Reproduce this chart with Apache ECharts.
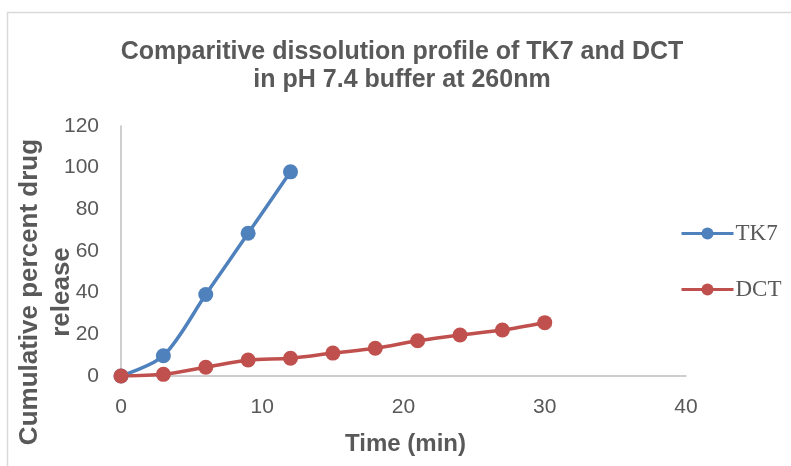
<!DOCTYPE html>
<html>
<head>
<meta charset="utf-8">
<script src="https://cdn.jsdelivr.net/npm/echarts@6/dist/echarts.min.js"></script>
<style>
html,body{margin:0;padding:0;background:#fff;}
#chart{width:791px;height:466px;}
</style>
</head>
<body>
<div id="chart"></div>
<script>
const timeTK7 = [0, 3, 6, 9, 12];
const valuesTK7 = [0, 9.7, 39.1, 68.5, 98.0];
const timeDCT = [0, 3, 6, 9, 12, 15, 18, 21, 24, 27, 30];
const valuesDCT = [0, 0.8, 4.2, 7.7, 8.5, 11.0, 13.3, 16.9, 19.7, 22.1, 25.6];
const titleLines = ['Comparitive dissolution profile of TK7 and DCT', 'in pH 7.4 buffer at 260nm'];
const xAxisName = 'Time (min)';
const yAxisNameLines = ['Cumulative percent drug', 'release'];

const chart = echarts.init(document.getElementById('chart'));
const grey = '#595959';
chart.setOption({
  animation: false,
  title: {
    text: titleLines.join('\n'),
    left: 397, top: 33, textAlign: 'center',
    textStyle: {fontFamily: 'Liberation Sans', fontWeight: 'bold', fontSize: 25, color: grey, lineHeight: 28}
  },
  graphic: [
    {type: 'rect', shape: {x: 7.5, y: 12.5, width: 900, height: 600}, style: {fill: 'none', stroke: '#d9d9d9', lineWidth: 1.5}, silent: true},
    {type: 'text', x: 46, y: 292, rotation: Math.PI / 2,
     style: {text: yAxisNameLines.join('\n'), textAlign: 'center', textVerticalAlign: 'middle',
       font: 'bold 26px "Liberation Sans"', fill: grey, lineHeight: 32}}
  ],
  legend: {
    orient: 'vertical', left: 675, top: 217, itemGap: 33,
    itemWidth: 52, itemHeight: 15,
    lineStyle: {width: 3},
    textStyle: {fontFamily: 'Liberation Serif', fontSize: 23, color: grey, padding: [0, 0, 0, -3]},
    data: ['TK7', 'DCT']
  },
  grid: {left: 121, right: 105, top: 126, bottom: 90, containLabel: false},
  xAxis: {
    type: 'value', min: 0, max: 40, interval: 10,
    name: xAxisName, nameLocation: 'middle', nameGap: 56,
    nameTextStyle: {fontFamily: 'Liberation Sans', fontWeight: 'bold', fontSize: 24, color: grey, padding: [0, 0, 0, 4]},
    axisLine: {lineStyle: {color: '#bfbfbf', width: 1.5}},
    axisTick: {show: false},
    splitLine: {show: false},
    axisLabel: {fontFamily: 'Liberation Sans', fontSize: 21, color: grey, margin: 21}
  },
  yAxis: {
    type: 'value', min: 0, max: 120, interval: 20,
    axisLine: {show: true, lineStyle: {color: '#bfbfbf', width: 1.5}},
    axisTick: {show: false},
    splitLine: {show: false},
    axisLabel: {fontFamily: 'Liberation Sans', fontSize: 21, color: grey, margin: 22}
  },
  series: [
    {name: 'TK7', type: 'line', data: timeTK7.map((t, i) => [t, valuesTK7[i]]),
     smooth: 0.3, symbol: 'circle', symbolSize: 15,
     lineStyle: {color: '#4f81bd', width: 3.5}, itemStyle: {color: '#4f81bd'}},
    {name: 'DCT', type: 'line', data: timeDCT.map((t, i) => [t, valuesDCT[i]]),
     smooth: 0.3, symbol: 'circle', symbolSize: 15,
     lineStyle: {color: '#c0504d', width: 3.5}, itemStyle: {color: '#c0504d'}}
  ]
});
</script>
</body>
</html>
